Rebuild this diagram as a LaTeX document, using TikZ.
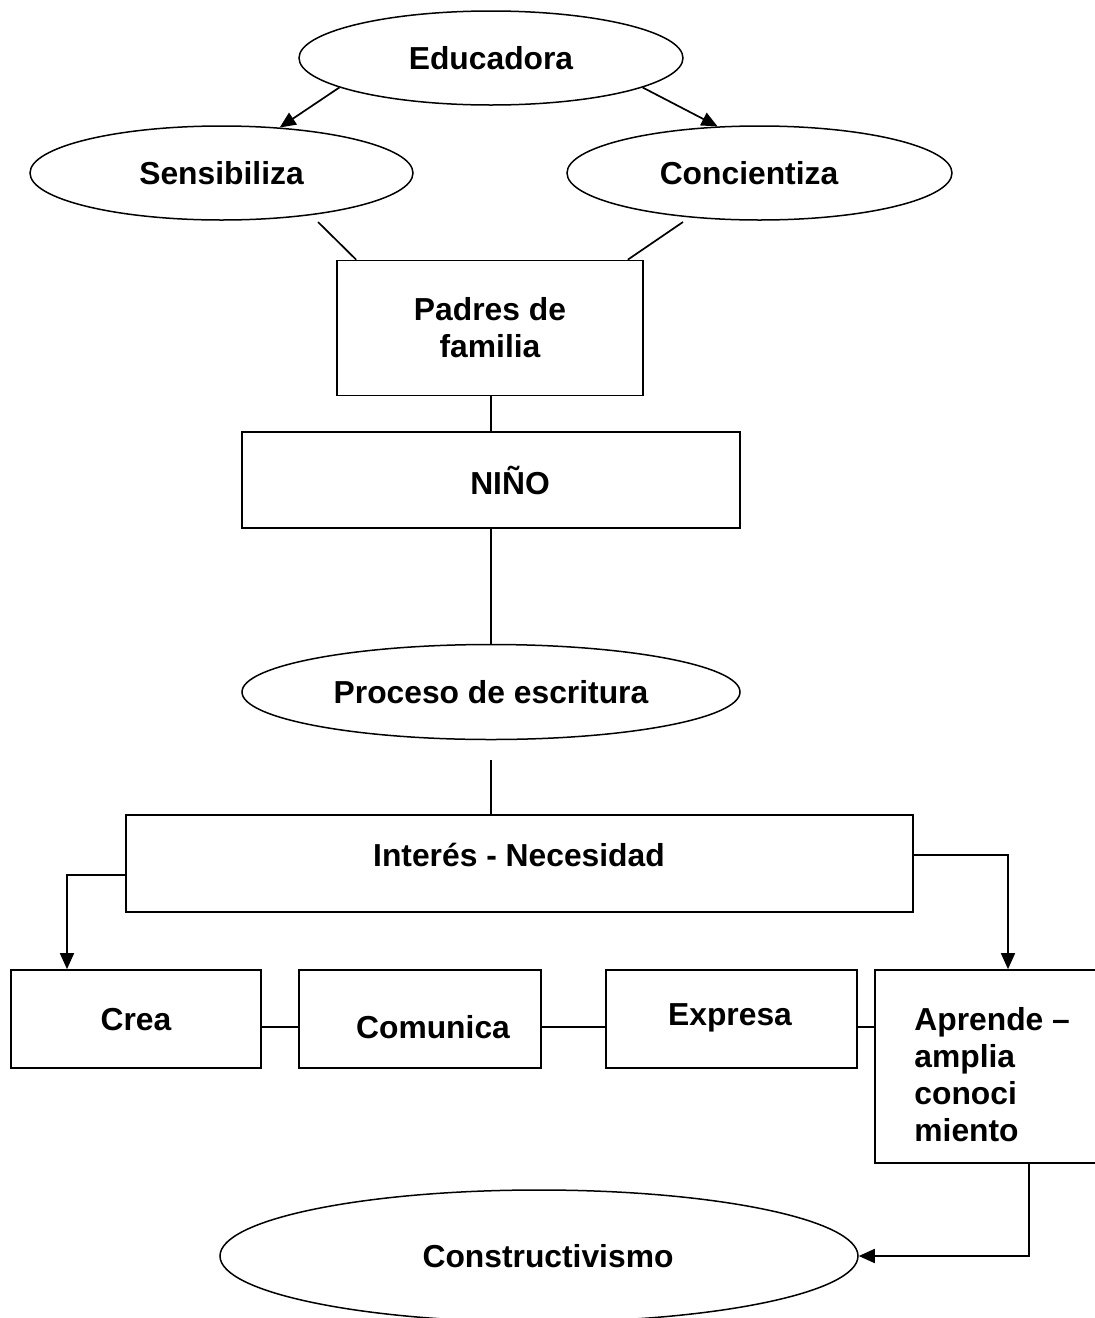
\documentclass[tikz,border=0pt]{standalone}
\usepackage{fontspec}
\setmainfont{Liberation Sans}
\usetikzlibrary{shapes.geometric,arrows.meta,calc}
\tikzset{
  every node/.style={font=\fontsize{15.9}{18.5}\selectfont\bfseries},
  oval/.style={draw, ellipse, line width=0.75pt, inner sep=0pt},
  box/.style={draw, rectangle, line width=0.85pt, inner sep=0pt},
  lbl/.style={draw=none, inner sep=0pt, align=center},
  conn/.style={line width=0.85pt},
  arr/.style={line width=0.85pt, -{Triangle[length=8pt,width=7pt]}}
}
\begin{document}
\begin{tikzpicture}[x=0.5pt,y=-0.5pt]
\useasboundingbox (0,0) rectangle (1095,1318);
\clip (0,0) rectangle (1095,1318);
% ellipses
\node[oval, minimum width=192pt, minimum height=47pt] (edu) at (491,58) {Educadora};
\node[oval, minimum width=191.5pt, minimum height=47pt] (sen) at (221.5,173) {Sensibiliza};
\node[oval, minimum width=192.5pt, minimum height=47pt] (con) at (759.5,173) {};
\node[lbl] (cont) at (749,173) {Concientiza};
\node[oval, minimum width=249pt, minimum height=47.5pt] (pro) at (491,692) {Proceso de escritura};
\node[oval, minimum width=319pt, minimum height=66pt] (cons) at (539,1256) {};
\node[lbl] (const) at (548,1256) {Constructivismo};
% boxes
\node[box, minimum width=153pt, minimum height=67.5pt, align=center] (pad) at (490,328) {Padres de\\familia};
\node[box, minimum width=249pt, minimum height=48pt] (nino) at (491,480) {};
\node[lbl] (ninot) at (510,480) {NIÑO};
\node[box, minimum width=393.5pt, minimum height=48.5pt] (int) at (519.5,863.5) {};
\node[lbl] (intt) at (519,855) {Interés - Necesidad};
\node[box, minimum width=125pt, minimum height=49pt] (crea) at (136,1019) {};
\node[lbl] (creat) at (136,1020) {Crea};
\node[box, minimum width=121pt, minimum height=49pt] (com) at (420,1019) {};
\node[lbl] (comt) at (433,1027) {Comunica};
\node[box, minimum width=125.5pt, minimum height=49pt] (exp) at (731.5,1019) {};
\node[lbl] (expt) at (730,1018) {Expresa};
\node[box, minimum width=117.5pt, minimum height=96.5pt] (apr) at (992.5,1066.5) {};
\node[lbl, anchor=west, align=left] (aprt) at (914,1074.5) {Aprende –\\amplia\\conoci\\miento};
% connectors
\coordinate (s1) at (318,222);
\coordinate (c1) at (683,222);
\coordinate (p1) at (491,760);
\draw[arr] (edu.191) -- (sen.38);
\draw[arr] (edu.349) -- (con.132);
\draw[conn] (s1) -- ([xshift=10pt]pad.north west);
\draw[conn] (c1) -- ([xshift=-8pt]pad.north east);
\draw[conn] (pad.south -| nino.north) -- (nino.north);
\draw[conn] (nino.south) -- (pro.north);
\draw[conn] (p1) -- (p1 |- int.north);
\draw[arr] ([yshift=-5.75pt]int.west) -| ([xshift=-34.5pt]crea.north);
\draw[arr] ([yshift=4.25pt]int.east) -| ([xshift=7.75pt]apr.north);
\draw[conn] ([yshift=-4pt]crea.east) -- ([yshift=-4pt]com.west);
\draw[conn] ([yshift=-4pt]com.east) -- ([yshift=-4pt]exp.west);
\draw[conn] ([yshift=-4pt]exp.east) -- ([yshift=-4pt]exp.east -| apr.west);
\draw[arr] ([xshift=18.25pt]apr.south) |- (cons.east);
\end{tikzpicture}
\end{document}
